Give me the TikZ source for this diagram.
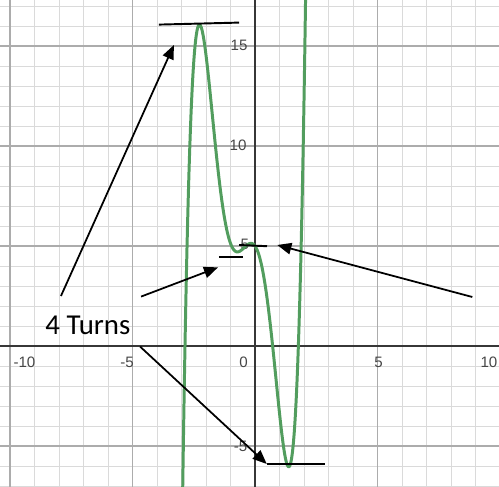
\documentclass[tikz,border=0pt]{standalone}
\usepackage{fontspec}
\usepackage{xcolor}
\usepackage{tikz}
\usetikzlibrary{arrows.meta}

\newfontfamily\turnsfont{Carlito}
\newfontfamily\numfont{Liberation Sans}
\definecolor{curvegreen}{RGB}{82,157,94}
\definecolor{minorgrid}{RGB}{218,218,218}
\definecolor{majorgrid}{RGB}{172,172,172}
\definecolor{axisgray}{RGB}{55,55,55}
\definecolor{numgray}{RGB}{70,70,70}

\begin{document}
\begin{tikzpicture}[x=0.49cm, y=0.4cm,
    minorline/.style={minorgrid, line width=0.55pt},
    majorline/.style={majorgrid, line width=0.6pt},
    axisline/.style={axisgray, line width=1.1pt},
    curve/.style={curvegreen, line width=1.7pt, line join=round},
    ticknum/.style={numgray, font=\numfont\fontsize{8.6}{10}\selectfont, inner sep=0pt},
    pointer/.style={-{Triangle[length=8pt, width=6.5pt]}, line width=1pt},
    flat/.style={line width=1.1pt}]
      \useasboundingbox (-10.408,-7.05) rectangle (9.959,17.3);
      \begin{scope}
        \clip (-10.408,-7.05) rectangle (9.959,17.3);
        \foreach \i in {-10,...,9} \draw[minorline] (\i,-7.05) -- (\i,17.3);
        \foreach \j in {-7,...,17} \draw[minorline] (-10.408,\j) -- (9.959,\j);
        \foreach \i in {-10,-5,5} \draw[majorline] (\i,-7.05) -- (\i,17.3);
        \foreach \j in {-5,5,10,15} \draw[majorline] (-10.408,\j) -- (9.959,\j);
        \draw[axisline] (-10.408,0) -- (9.959,0);
        \draw[axisline] (0,-7.05) -- (0,17.3);

        \node[ticknum] (xmten) at (-9.41,-0.8) {-10};
        \node[ticknum] (xmfive) at (-5.22,-0.8) {-5};
        \node[ticknum] (xzero) at (-0.47,-0.8) {0};
        \node[ticknum] (xfive) at (5.04,-0.8) {5};
        \node[ticknum] (xten) at (9.55,-0.8) {10};
        \node[ticknum] (yfifteen) at (-0.65,15.05) {15};
        \node[ticknum] (yten) at (-0.69,10.05) {10};
        \node[ticknum] (yfive) at (-0.41,5.1) {5};
        \node[ticknum] (ymfive) at (-0.59,-5.0) {-5};

        \draw[curve] plot[domain=-2.95:2.1, samples=400]
          (\x, {((((0.934*\x+2.070)*\x-3.447)*\x-6.181)*\x-1.731)*\x+5});
      \end{scope}

      \node[font=\turnsfont\fontsize{16.4}{20}\selectfont, inner sep=0pt, anchor=base west] (turns) at (-8.57,0.55) {4 Turns};

      \coordinate (peakL) at (-3.92,16.07);
      \coordinate (peakR) at (-0.65,16.17);
      \coordinate (dipL) at (-1.47,4.47);
      \coordinate (dipR) at (-0.49,4.47);
      \coordinate (topL) at (-0.65,5.05);
      \coordinate (topR) at (0.49,4.99);
      \coordinate (lowL) at (0.48,-5.9);
      \coordinate (lowR) at (2.86,-5.9);

      \draw[flat] (peakL) -- (peakR);
      \draw[flat] (dipL) -- (dipR);
      \draw[flat] (topL) -- (topR);
      \draw[flat] (lowL) -- (lowR);

      \coordinate (fromA) at (-7.92,2.5);
      \coordinate (toA) at (-3.31,15.05);
      \coordinate (fromB) at (-4.65,2.47);
      \coordinate (toB) at (-1.51,3.93);
      \coordinate (fromC) at (8.87,2.45);
      \coordinate (toC) at (0.91,5.05);
      \coordinate (fromD) at (-4.69,-0.03);

      \draw[pointer] (fromA) -- (toA);
      \draw[pointer] (fromB) -- (toB);
      \draw[pointer] (fromC) -- (toC);
      \draw[pointer] (fromD) -- (lowL);
    \end{tikzpicture}
\end{document}
